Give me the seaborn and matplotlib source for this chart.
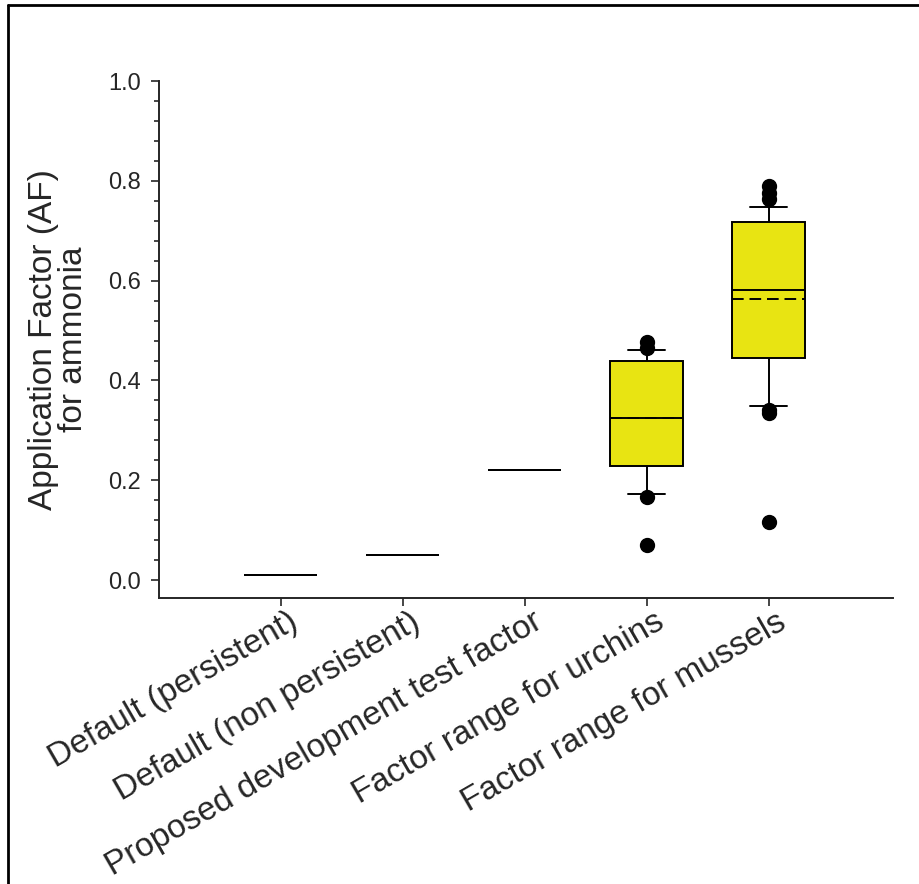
import pandas as pd
import numpy as np
import matplotlib.pyplot as plt
import seaborn as sns
from matplotlib.ticker import MultipleLocator
from matplotlib.lines import Line2D
from matplotlib.transforms import ScaledTranslation

sns.set_style("ticks")
plt.rcParams["font.family"] = ["Liberation Sans", "DejaVu Sans"]

categories = [
    "Default (persistent)",
    "Default (non persistent)",
    "Proposed development test factor",
    "Factor range for urchins",
    "Factor range for mussels",
]

# single fixed factors
persistent = [0.01]
non_persistent = [0.05]
proposed = [0.22]

urchins = [0.07, 0.166, 0.172, 0.20, 0.22, 0.228, 0.26, 0.28, 0.30, 0.315, 0.325,
           0.35, 0.37, 0.39, 0.42, 0.439, 0.445, 0.452, 0.461, 0.465, 0.477]
mussels = [0.116, 0.335, 0.340, 0.349, 0.37, 0.40, 0.42, 0.445, 0.445, 0.47, 0.49,
           0.51, 0.53, 0.55, 0.57, 0.581, 0.595, 0.61, 0.63, 0.65, 0.67, 0.69,
           0.717, 0.717, 0.72, 0.725, 0.735, 0.747, 0.763, 0.775, 0.79]

groups = [persistent, non_persistent, proposed, urchins, mussels]
df = pd.concat([pd.DataFrame({"group": c, "AF": v}) for c, v in zip(categories, groups)])

fig = plt.figure(figsize=(9.19, 8.84), dpi=100)
ax = fig.add_axes([0.173, 0.3235, 0.7987, 0.5848])

sns.boxplot(data=df, x="group", y="AF", order=categories, ax=ax,
            whis=(10, 90), width=0.6, color="#e8e412", saturation=1,
            linecolor="black", linewidth=1.4,
            showmeans=True, meanline=True,
            meanprops=dict(color="black", ls=(0, (6, 3)), lw=1.4),
            medianprops=dict(color="black", lw=1.4),
            flierprops=dict(marker="o", markerfacecolor="black", markeredgecolor="black", markersize=10))

ax.set_xlim(-1.0, 5.02)
ax.set_ylim(-0.036, 1.0)
ax.yaxis.set_major_locator(MultipleLocator(0.2))
ax.yaxis.set_minor_locator(MultipleLocator(0.04))
sns.despine(ax=ax)
for s in ["left", "bottom"]:
    ax.spines[s].set_linewidth(1.4)

ax.tick_params(axis="y", which="major", length=6, width=1.2, labelsize=17, pad=7)
ax.tick_params(axis="y", which="minor", length=3.5, width=1.2)
ax.tick_params(axis="x", length=6, width=1.2, labelsize=24, pad=3)
shift = ScaledTranslation(5 / 72, 3 / 72, fig.dpi_scale_trans)
for lab in ax.get_xticklabels():
    lab.set_rotation(30)
    lab.set_ha("right")
    lab.set_rotation_mode("anchor")
    lab.set_transform(lab.get_transform() + shift)

ax.set_xlabel("")
ax.set_ylabel("Application Factor (AF)\nfor ammonia", fontsize=24, linespacing=0.95)
ax.yaxis.set_label_coords(-0.095, 0.5)

# partial frame around the figure
fig.add_artist(Line2D([8 / 919, 1.0], [1 - 5 / 884, 1 - 5 / 884], color="black", lw=2))
fig.add_artist(Line2D([8 / 919, 8 / 919], [0, 1 - 5 / 884], color="black", lw=2))

fig.savefig("out.png", dpi=100)
